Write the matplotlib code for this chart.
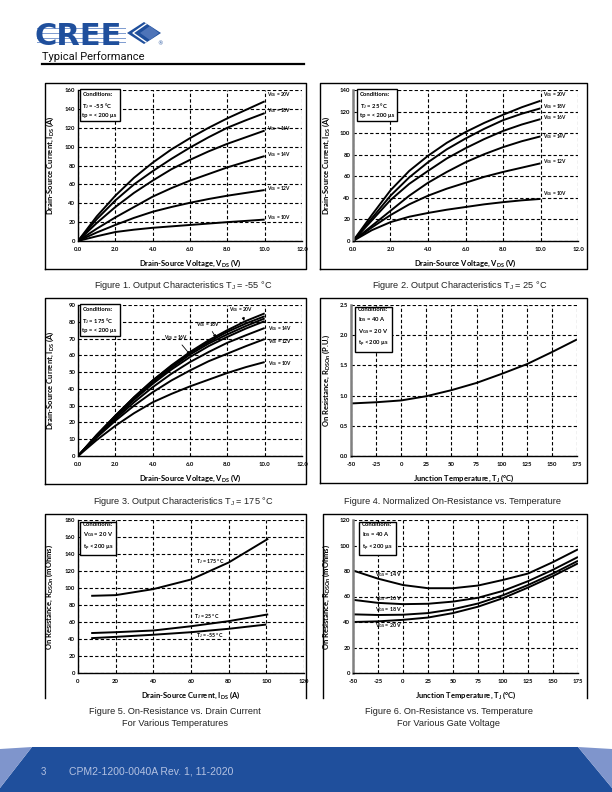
import matplotlib.pyplot as plt
from matplotlib.patches import Polygon
from matplotlib.lines import Line2D

plt.rcParams['font.family'] = ['Lato', 'DejaVu Sans']
plt.rcParams['mathtext.default'] = 'regular'

W, H = 612, 792
BLUE = '#1f4f9c'
LIGHT = '#7f95cc'

# ---- data ----
vds = [0, 1, 2, 3, 4, 5, 6, 7, 8, 9, 10]
vgs_names = ["20V", "18V", "16V", "14V", "12V", "10V"]

# Figure 1, Tj = -55 C
f1_20v = [0, 26, 48, 67, 83, 97, 109, 120, 130, 139, 148]
f1_18v = [0, 23, 43, 60, 74, 87, 99, 110, 120, 128, 135.5]
f1_16v = [0, 19, 36, 51, 64, 76, 86, 95, 103, 110, 117]
f1_14v = [0, 13, 25, 36, 47, 56, 64, 71, 78, 84, 90]
f1_12v = [0, 9, 17, 24.5, 31, 36, 40.5, 44.5, 48, 51, 54]
f1_10v = [0, 5, 9.5, 12, 14, 15.5, 17, 18.5, 20, 21.3, 22.7]

# Figure 2, Tj = 25 C
f2_20v = [0, 24, 47, 65, 79, 91, 101, 109.5, 117, 124, 130]
f2_18v = [0, 21, 42, 59, 73, 85, 95, 104, 112, 118, 123]
f2_16v = [0, 19, 38, 53, 65, 76.5, 86, 94.5, 102, 108, 113]
f2_14v = [0, 14, 28, 42, 54, 64, 73, 80.5, 87, 92.5, 97]
f2_12v = [0, 12.5, 24, 34, 42, 48.5, 54, 59.5, 64, 68, 72]
f2_10v = [0, 10, 17.5, 22.5, 26, 29, 31.5, 34, 36, 37.7, 39]

# Figure 3, Tj = 175 C (one extra unlabelled curve in the top bundle)
f3_20v = [0, 12.5, 24, 35, 45, 54, 62, 69, 75, 80.5, 85]
f3_18v = [0, 12.5, 24, 35, 45, 53.5, 61.5, 68, 74, 79, 83.3]
f3_16v = [0, 12, 23.5, 34, 44, 52.5, 60.5, 67, 72.5, 77.5, 82]
f3_xx = [0, 12, 23, 33.5, 43, 51.5, 59, 65.5, 71, 76, 80.4]
f3_14v = [0, 11.5, 22, 32, 41, 49, 56, 62, 67.5, 72, 76.3]
f3_12v = [0, 11, 21, 30, 38, 45, 51, 56.5, 61, 65.5, 69.7]
f3_10v = [0, 9.5, 18, 25.5, 32, 37, 41.5, 45.5, 49.5, 53, 56]

# Figure 4, normalized on-resistance
tj = [-50, -25, 0, 25, 50, 75, 100, 125, 150, 175]
rds_norm = [0.87, 0.89, 0.92, 0.99, 1.09, 1.21, 1.36, 1.52, 1.72, 1.93]

# Figure 5, on-resistance vs drain current
ids5 = [7, 20, 40, 60, 80, 101]
r5_175 = [90.8, 91.6, 98.7, 110, 130, 158]
r5_25 = [47, 48, 50, 55, 61, 69]
r5_m55 = [41, 42.5, 45, 48, 52, 57]

# Figure 6, on-resistance vs temperature for gate voltages
r6_14v = [80.4, 74, 69, 66.5, 66.5, 68.6, 73, 78, 87, 97]
r6_16v = [57.4, 55, 54, 54.3, 56, 59, 64.4, 72, 81, 91]
r6_18v = [46, 45.5, 45.7, 47, 50, 54.5, 61, 69, 78, 88]
r6_20v = [40, 40.5, 41.7, 43.5, 47, 52, 58.7, 67, 76, 86]

fig = plt.figure(figsize=(W / 100, H / 100), dpi=100)


def fx(x):
    return x / W


def fy(y):
    return 1 - y / H


def frame(x0, y0, x1, y1, bottom=True):
    xs = [x0, x0, x1, x1] + ([x0] if bottom else [])
    ys = [y1, y0, y0, y1] + ([y1] if bottom else [])
    fig.add_artist(Line2D([fx(v) for v in xs], [fy(v) for v in ys],
                          color='k', lw=1.0, transform=fig.transFigure))


def make_axes(box, xlim, xticks, xlabels, ylim, yticks, ylabels, gray_left=False):
    x0, y0, x1, y1 = box
    ax = fig.add_axes([fx(x0), fy(y1), (x1 - x0) / W, (y1 - y0) / H])
    ax.set_xlim(*xlim)
    ax.set_ylim(*ylim)
    ax.set_xticks(xticks)
    ax.set_xticklabels(xlabels)
    ax.set_yticks(yticks)
    ax.set_yticklabels(ylabels)
    ax.tick_params(length=0, labelsize=4.3)
    ax.tick_params(axis='x', pad=4)
    ax.tick_params(axis='y', pad=2)
    for lab in ax.get_xticklabels() + ax.get_yticklabels():
        lab.set_fontweight('bold')
    ax.grid(True, color='k', lw=0.8, ls=(0, (3, 2)))
    ax.set_axisbelow(True)
    ax.spines['top'].set_visible(False)
    ax.spines['right'].set_visible(False)
    ax.spines['bottom'].set_linewidth(1.0)
    if gray_left:
        ax.spines['left'].set_color('#808080')
        ax.spines['left'].set_linewidth(1.8)
    else:
        ax.spines['left'].set_linewidth(1.0)
    ax.yaxis.set_label_coords(-0.10, 0.5)
    ax.xaxis.set_label_coords(0.5, -0.11)
    return ax


def conditions(ax, text, x=0.02, y=0.985):
    ax.text(x, y, text, transform=ax.transAxes, fontsize=4.2, fontweight='bold',
            va='top', ha='left', linespacing=1.5,
            bbox=dict(boxstyle='square,pad=0.5', fc='white', ec='k', lw=1.0))


def caption(x, y, text):
    fig.text(fx(x), fy(y), text, ha='center', va='center', fontsize=6.6,
             family=['Liberation Sans Narrow', 'Liberation Sans'], color='#222222')


vx = [0, 2, 4, 6, 8, 10, 12]
vx_lab = ['%.1f' % v for v in vx]
tx = [-50, -25, 0, 25, 50, 75, 100, 125, 150, 175]
tx_lab = [str(v) for v in tx]
ylab_ids = 'Drain-Source Current, I$_{DS}$ (A)'
xlab_vds = 'Drain-Source Voltage, V$_{DS}$ (V)'
lab_kw = dict(fontsize=5.5, fontweight='bold')
curve_kw = dict(color='k', lw=1.4, solid_capstyle='butt')

# ---- Figure 1 ----
frame(45, 83, 306, 269)
ax1 = make_axes((78, 90, 302, 241), (0, 12), vx, vx_lab, (0, 160),
                list(range(0, 161, 20)), [str(v) for v in range(0, 161, 20)])
f1 = [f1_20v, f1_18v, f1_16v, f1_14v, f1_12v, f1_10v]
f1_lab_y = [155, 138, 119, 92, 56, 25]
for ys, name, ly in zip(f1, vgs_names, f1_lab_y):
    ax1.plot(vds, ys, **curve_kw)
    ax1.text(10.1, ly, 'V$_{GS}$ = ' + name, fontsize=3.5, fontweight='bold', va='center')
ax1.set_ylabel(ylab_ids, **lab_kw)
ax1.set_xlabel(xlab_vds, **lab_kw)
conditions(ax1, 'Conditions:\nT$_J$ = -55 °C\ntp = < 200 µs')
caption(183, 285, 'Figure 1. Output Characteristics T$_J$ = -55 °C')

# ---- Figure 2 ----
frame(320, 83, 587, 269)
ax2 = make_axes((353, 90, 578, 241), (0, 12), vx, vx_lab, (0, 140),
                list(range(0, 141, 20)), [str(v) for v in range(0, 141, 20)],
                gray_left=True)
f2 = [f2_20v, f2_18v, f2_16v, f2_14v, f2_12v, f2_10v]
f2_lab_y = [136, 125, 114, 97, 74, 44]
for ys, name, ly in zip(f2, vgs_names, f2_lab_y):
    ax2.plot(vds, ys, **curve_kw)
    ax2.text(10.15, ly, 'V$_{GS}$ = ' + name, fontsize=3.5, fontweight='bold', va='center')
ax2.set_ylabel(ylab_ids, **lab_kw)
ax2.set_xlabel(xlab_vds, **lab_kw)
ax2.yaxis.set_label_coords(-0.095, 0.5)
conditions(ax2, 'Conditions:\nT$_J$ = 25 °C\ntp = < 200 µs', x=0.03)
caption(460, 285, 'Figure 2. Output Characteristics T$_J$ = 25 °C')

# ---- Figure 3 ----
frame(45, 298, 306, 484)
ax3 = make_axes((78, 305, 302, 456), (0, 12), vx, vx_lab, (0, 90),
                list(range(0, 91, 10)), [str(v) for v in range(0, 91, 10)])
for ys in [f3_20v, f3_18v, f3_16v, f3_xx, f3_14v, f3_12v, f3_10v]:
    ax3.plot(vds, ys, **curve_kw)
arrow = dict(arrowstyle='-|>', lw=0.6, color='k', mutation_scale=4, shrinkA=0, shrinkB=0)
ax3.annotate('V$_{GS}$ = 20V', xy=(8.9, 80.5), xytext=(8.1, 87), fontsize=3.5,
             fontweight='bold', va='center', arrowprops=arrow)
ax3.annotate('V$_{GS}$ = 18V', xy=(7.4, 70.5), xytext=(6.3, 78.5), fontsize=3.5,
             fontweight='bold', va='center', arrowprops=arrow)
ax3.annotate('V$_{GS}$ = 16V', xy=(6.0, 60.5), xytext=(4.6, 70.5), fontsize=3.5,
             fontweight='bold', va='center', arrowprops=arrow)
for ly, name in zip([76, 68, 55], ["14V", "12V", "10V"]):
    ax3.text(10.2, ly, 'V$_{GS}$ = ' + name, fontsize=3.5, fontweight='bold', va='center')
ax3.set_ylabel(ylab_ids, **lab_kw)
ax3.set_xlabel(xlab_vds, **lab_kw)
conditions(ax3, 'Conditions:\nT$_J$ = 175 °C\ntp = < 200 µs')
caption(183, 501, 'Figure 3. Output Characteristics T$_J$ = 175 °C')

# ---- Figure 4 ----
frame(320, 298, 587, 483)
ax4 = make_axes((351, 305, 577, 456), (-50, 175), tx, tx_lab, (0, 2.5),
                [0, 0.5, 1.0, 1.5, 2.0, 2.5], ['0.0', '0.5', '1.0', '1.5', '2.0', '2.5'],
                gray_left=True)
ax4.plot(tj, rds_norm, **curve_kw)
ax4.set_ylabel('On Resistance, R$_{DS On}$ (P.U.)', **lab_kw)
ax4.set_xlabel('Junction Temperature, T$_J$ (°C)', **lab_kw)
ax4.yaxis.set_label_coords(-0.085, 0.5)
conditions(ax4, 'Conditions:\nI$_{DS}$ = 40 A\nV$_{GS}$ = 20 V\nt$_p$ < 200 µs', x=0.03)
caption(453, 501, 'Figure 4. Normalized On-Resistance vs. Temperature')

# ---- Figure 5 ----
frame(45, 514, 306, 698, bottom=False)
ax5 = make_axes((78, 520, 304, 673), (0, 120), list(range(0, 121, 20)),
                [str(v) for v in range(0, 121, 20)], (0, 180),
                list(range(0, 181, 20)), [str(v) for v in range(0, 181, 20)])
ax5.plot(ids5, r5_175, **curve_kw)
ax5.plot(ids5, r5_25, **curve_kw)
ax5.plot(ids5[:-1] + [100], r5_m55, **curve_kw)
for lx, ly, name in [(70, 131, '175'), (68.5, 66, '25'), (70, 44, '-55')]:
    ax5.text(lx, ly, 'T$_J$ = ' + name + ' °C', fontsize=3.8, fontweight='bold',
             ha='center', va='center')
ax5.set_ylabel('On Resistance, R$_{DS On}$ (mOhms)', **lab_kw)
ax5.set_xlabel('Drain-Source Current, I$_{DS}$ (A)', **lab_kw)
conditions(ax5, 'Conditions:\nV$_{GS}$ = 20 V\nt$_p$ < 200 µs')
caption(175, 712, 'Figure 5. On-Resistance vs. Drain Current')
caption(175, 724, 'For Various Temperatures')

# ---- Figure 6 ----
frame(323, 514, 587, 698, bottom=False)
ax6 = make_axes((353, 520, 578, 673), (-50, 175), tx, tx_lab, (0, 120),
                list(range(0, 121, 20)), [str(v) for v in range(0, 121, 20)],
                gray_left=True)
for ys in [r6_14v, r6_16v, r6_18v, r6_20v]:
    ax6.plot(tj, ys, **curve_kw)
for ly, name in zip([77, 58.7, 50, 37.5], ['14', '16', '18', '20']):
    ax6.text(-14, ly, 'V$_{GS}$ = ' + name + ' V', fontsize=3.8, fontweight='bold',
             ha='center', va='center')
ax6.set_ylabel('On Resistance, R$_{DS On}$ (mOhms)', **lab_kw)
ax6.set_xlabel('Junction Temperature, T$_J$ (°C)', **lab_kw)
ax6.yaxis.set_label_coords(-0.095, 0.5)
conditions(ax6, 'Conditions:\nI$_{DS}$ = 40 A\nt$_p$ < 200 µs', x=0.04)
caption(449, 712, 'Figure 6. On-Resistance vs. Temperature')
caption(449, 724, 'For Various Gate Voltage')

# ---- header ----
fig.text(fx(35), fy(45), 'CREE', fontsize=22, fontweight='heavy', color=BLUE,
         family='DejaVu Sans', va='baseline', ha='left')
for yy in [28, 33, 38, 42]:
    fig.add_artist(Line2D([fx(37), fx(125)], [fy(yy), fy(yy)], color='#7d9bd0',
                          lw=0.7, transform=fig.transFigure))
diamond = [(127, 33), (144, 22), (161, 33), (144, 44)]
fig.add_artist(Polygon([(fx(a), fy(b)) for a, b in diamond], closed=True, fc=BLUE,
                       ec='none', transform=fig.transFigure))
inner = [(140, 33), (150, 26), (159, 33), (150, 40)]
fig.add_artist(Polygon([(fx(a), fy(b)) for a, b in inner], closed=True, fc='#4e74b8',
                       ec='none', transform=fig.transFigure))
fig.add_artist(Line2D([fx(146), fx(133), fx(146)], [fy(24), fy(33), fy(42)],
                      color='white', lw=1.0, transform=fig.transFigure))
fig.text(fx(157), fy(45), '®', fontsize=4, color=BLUE, family='DejaVu Sans')
fig.text(fx(42), fy(57), 'Typical Performance', fontsize=8, family='Roboto',
         fontweight='normal', va='center', ha='left', color='#111111')
fig.add_artist(Line2D([fx(42), fx(304)], [fy(64), fy(64)], color='k', lw=1.6,
                      transform=fig.transFigure))

# ---- footer ----
band = [(0, 792), (0, 788), (32, 747), (578, 747), (612, 788), (612, 792)]
fig.add_artist(Polygon([(fx(a), fy(b)) for a, b in band], closed=True, fc=BLUE,
                       ec='none', transform=fig.transFigure))
for tri in [[(0, 749), (32, 747), (0, 788)], [(578, 747), (612, 749), (612, 788)]]:
    fig.add_artist(Polygon([(fx(a), fy(b)) for a, b in tri], closed=True, fc=LIGHT,
                           ec='none', transform=fig.transFigure))
fig.text(fx(43), fy(772), '3', fontsize=7, color='#b4c2e2', va='center', ha='center',
         family=['Liberation Sans Narrow', 'Liberation Sans'])
fig.text(fx(69), fy(772), 'CPM2-1200-0040A Rev. 1, 11-2020', fontsize=7.5,
         color='#b4c2e2', va='center', ha='left',
         family=['Liberation Sans Narrow', 'Liberation Sans'])

fig.savefig('out.png', dpi=100)
